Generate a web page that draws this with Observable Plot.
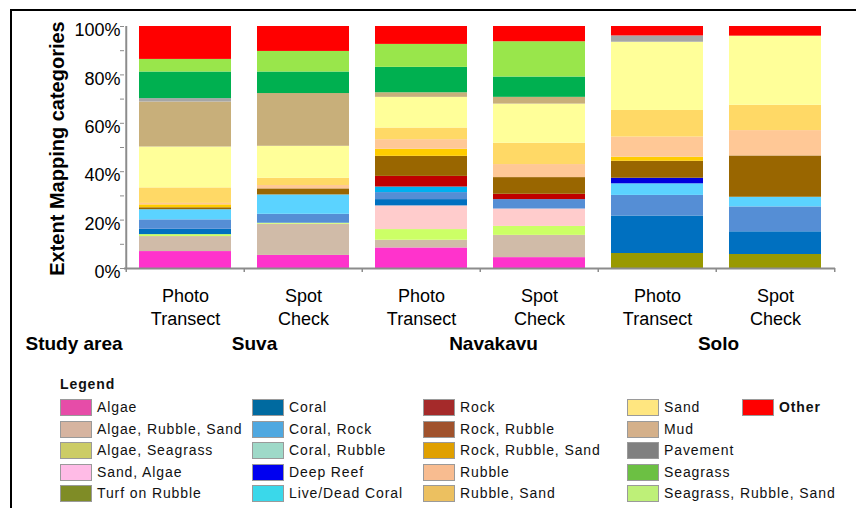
<!DOCTYPE html>
<html><head><meta charset="utf-8">
<script src="https://cdn.jsdelivr.net/npm/d3@7"></script>
<script src="https://cdn.jsdelivr.net/npm/@observablehq/plot@0.6"></script>
<style>
body{margin:0;background:#fff;font-family:"Liberation Sans",Arial,sans-serif;}
#page{position:relative;width:856px;height:508px;overflow:hidden;background:#fff;}
#frame{position:absolute;left:10px;top:9px;right:0;bottom:-5px;border-top:2px solid #000;border-left:2px solid #000;}
#chart{position:absolute;left:0;top:0;}
#chart text.cat{letter-spacing:1px;}
#chart text.grp{letter-spacing:0.9px;}
.leg{position:absolute;font-size:14px;letter-spacing:0.9px;color:#111;white-space:nowrap;line-height:16px;}
.sw{position:absolute;width:30px;height:15px;border:1px solid #9a9a9a;}
</style></head><body>
<div id="page"><div id="frame"></div><div id="chart"></div><div id="legend"></div></div>
<script>
// Mapping categories (stack order bottom to top, legend order)
const categories = ["Algae","Algae, Rubble, Sand","Algae, Seagrass","Sand, Algae","Turf on Rubble",
  "Coral","Coral, Rock","Coral, Rubble","Deep Reef","Live/Dead Coral",
  "Rock","Rock, Rubble","Rock, Rubble, Sand","Rubble","Rubble, Sand",
  "Sand","Mud","Pavement","Seagrass","Seagrass, Rubble, Sand","Other"];
// Bars: study area and method
const studyAreas = ["Suva","Navakavu","Solo"];
const methods = ["Photo Transect","Spot Check"];
const methodLabels = ["Photo\nTransect","Spot\nCheck"];
// percentages per category (same order as categories)
const suvaPhoto = [7.0,6.2,0.8,0,0, 2.2,3.9,4.2,0,0, 0,0.8,1.2,0.6,6.4, 16.9,18.6,1.4,11.0,5.2,13.6];
const suvaSpot  = [5.4,12.9,0.4,0,0, 0,3.7,8.0,0,0, 0,2.5,0,1.4,3.0, 13.2,21.8,0,8.9,8.5,10.3];
const navPhoto  = [8.5,3.2,4.4,9.8,0, 2.6,2.9,0,0,2.3, 4.4,8.3,2.9,4.0,4.8, 12.7,1.9,0,10.5,9.5,7.4];
const navSpot   = [4.5,9.2,3.7,7.2,0, 0,3.9,0,0,0, 2.2,6.9,0,5.4,8.8, 16.2,2.8,0,8.4,14.6,6.3];
const soloPhoto = [0,0,0,0,6.2, 15.5,8.5,4.8,2.3,0, 0,7.0,1.7,8.3,11.0, 28.2,0,2.6,0,0,3.9];
const soloSpot  = [0,0,0,0,5.8, 9.4,10.3,4.0,0,0, 0,17.1,0,10.5,10.5, 28.6,0,0,0,0,4.0];
const yTicks = [0,10,20,30,40,50,60,70,80,90,100];

// styles
const barColors = ["#FF33CC","#D0BBA8","#CCFF66","#FFCCCC","#999900",
  "#0070C0","#558ED5","#5BD3FF","#0000DD","#00B0F0",
  "#C00000","#996600","#FFCC00","#FFC896","#FFD966",
  "#FFFF99","#C8AF7A","#A6A6A6","#00B050","#99E64B","#FF0000"];
const legendColors = ["#E64CA8","#D6B4A0","#CCCC66","#FFBBE6","#7F8C26",
  "#006AA0","#4FA8E0","#9ED9C8","#0000F0","#3AD8EA",
  "#A52A2A","#A0522D","#E0A000","#F8BC90","#ECC060",
  "#FFE680","#D4B08A","#808080","#6CC043","#BEF078","#FF0000"];
const groupLabelDx = [69, 72, 61];

const series = [suvaPhoto, suvaSpot, navPhoto, navSpot, soloPhoto, soloSpot];
const barKeys = [];
studyAreas.forEach(a => methods.forEach(m => barKeys.push(a + "|" + m)));
const rows = [];
barKeys.forEach((k, i) => series[i].forEach((v, j) => { if (v > 0) rows.push({bar: k, category: categories[j], value: v}); }));

const H = 360, bottomY = 268, halfStep = (856 - 124 - 21) / 6 / 2;
const grey = "#8c8c8c";
const chart = Plot.plot({
  width: 856, height: H,
  marginLeft: 124, marginRight: 21, marginTop: 26, marginBottom: H - bottomY,
  style: {fontFamily: "Liberation Sans, Arial, sans-serif", background: "transparent", color: "#000", overflow: "visible"},
  x: {domain: barKeys, padding: 0, axis: null},
  y: {domain: [0, 1], axis: null},
  color: {domain: categories, range: barColors},
  marks: [
    Plot.barY(rows, Plot.stackY({x: "bar", y: "value", fill: "category", offset: "normalize", insetLeft: 13, insetRight: 13})),
    Plot.ruleY([0], {stroke: grey, strokeWidth: 2}),
    Plot.ruleX([barKeys[0]], {x: d => d, dx: -halfStep, stroke: grey, strokeWidth: 2}),
    Plot.ruleX(barKeys, {x: d => d, dx: -halfStep, y1: 0, y2: -0.017, stroke: grey, strokeWidth: 1.5}),
    Plot.ruleX([barKeys[barKeys.length - 1]], {x: d => d, dx: halfStep, y1: 0, y2: -0.017, stroke: grey, strokeWidth: 1.5}),
    Plot.axisY({ticks: yTicks.map(t => t / 100), tickSize: 4, tickFormat: () => "", stroke: grey, label: null}),
    Plot.axisY({ticks: yTicks.filter(t => t % 20 === 0).map(t => t / 100), tickSize: 0, tickPadding: 4, dy: 4,
      tickFormat: d => Math.round(d * 100) + "%", fontSize: 18, color: "#000", label: null}),
    Plot.text(["Extent Mapping categories"], {frameAnchor: "left", textAnchor: "middle", rotate: -90, dx: -67, dy: 1, fontSize: 20, fontWeight: "bold"}),
    Plot.text(barKeys, {x: d => d, text: (d, i) => methodLabels[i % 2], frameAnchor: "bottom", lineAnchor: "top", dy: 17, fontSize: 18, lineHeight: 1.28, className: "cat"}),
    ...studyAreas.map((a, i) => Plot.text([a + "|" + methods[0]], {x: d => d, text: d => d.split("|")[0], frameAnchor: "bottom", dx: groupLabelDx[i], dy: 81, fontSize: 19, fontWeight: "bold", className: "grp"})),
    Plot.text(["Study area"], {frameAnchor: "bottom-left", textAnchor: "start", dx: -99, dy: 81, fontSize: 19, fontWeight: "bold", className: "grp"})
  ]
});
document.getElementById("chart").appendChild(chart);

// legend
const legend = document.getElementById("legend");
const colX = [60, 252, 423, 627, 742];
const colOf = i => i < 20 ? Math.floor(i / 5) : 4;
const rowOf = i => i < 20 ? i % 5 : 0;
const title = document.createElement("div");
title.className = "leg"; title.style.left = "60px"; title.style.top = "376px"; title.style.fontWeight = "bold";
title.textContent = "Legend"; legend.appendChild(title);
categories.forEach((c, i) => {
  const x = colX[colOf(i)], y = 399 + rowOf(i) * 21.5;
  const sw = document.createElement("div");
  sw.className = "sw"; sw.style.left = x + "px"; sw.style.top = y + "px"; sw.style.background = legendColors[i];
  legend.appendChild(sw);
  const t = document.createElement("div");
  t.className = "leg"; t.style.left = (x + 37) + "px"; t.style.top = y + "px";
  if (c === "Other") t.style.fontWeight = "bold";
  t.textContent = c; legend.appendChild(t);
});
</script>
</body></html>
